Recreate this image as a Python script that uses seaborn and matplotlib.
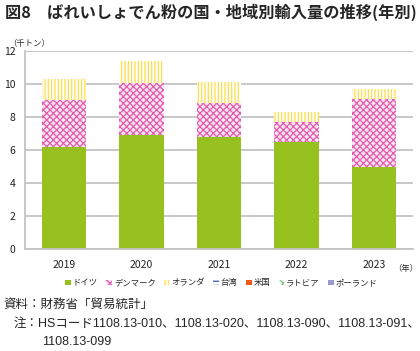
import matplotlib
matplotlib.use("Agg")
import matplotlib.pyplot as plt
from matplotlib.patches import Patch
import seaborn as sns
import pandas as pd

years = ["2019", "2020", "2021", "2022", "2023"]
countries = ["ドイツ", "デンマーク", "オランダ", "台湾", "米国", "ラトビア", "ポーランド"]
germany = [6.20, 6.93, 6.76, 6.46, 5.00]
denmark = [2.85, 3.13, 2.09, 1.21, 4.09]
netherlands = [1.25, 1.34, 1.25, 0.63, 0.61]
taiwan = [0.0, 0.0, 0.0, 0.0, 0.0]
usa = [0.0, 0.0, 0.0, 0.0, 0.0]
latvia = [0.0, 0.0, 0.0, 0.0, 0.0]
poland = [0.0, 0.0, 0.0, 0.0, 0.0]

# (face, hatch colour, hatch)
styles = {
    "ドイツ": ("#97C11F", "#97C11F", None),
    "デンマーク": ("#FBE3F0", "#E35DAE", "xxxxx"),
    "オランダ": ("#FFFFFF", "#FFDD44", "|||||"),
    "台湾": ("#FFFFFF", "#3A52A8", "----"),
    "米国": ("#F05A14", "#F05A14", None),
    "ラトビア": ("#FFFFFF", "#7FC77F", "xxxx"),
    "ポーランド": ("#9A9ACC", "#9A9ACC", None),
}

series = [germany, denmark, netherlands, taiwan, usa, latvia, poland]
rows = []
for c, vals in zip(countries, series):
    for y, v in zip(years, vals):
        rows.append({"year": y, "country": c, "value": v})
df = pd.DataFrame(rows)
df["cum"] = df.groupby("year")["value"].cumsum()

sns.set_theme(style="white")
plt.rcParams["font.family"] = ["Noto Sans CJK JP", "DejaVu Sans"]
plt.rcParams["hatch.linewidth"] = 0.9
narrow = ["Liberation Sans", "Noto Sans CJK JP"]

fig = plt.figure(figsize=(4.2, 3.51), dpi=100)
ax = fig.add_axes([0.06, 0.29, 0.923, 0.565])

# draw cumulative totals from the top series down so each layer covers the next
for c in reversed(countries[:3]):
    sub = df[df["country"] == c]
    face, hc, hatch = styles[c]
    sns.barplot(data=sub, x="year", y="cum", order=years, width=0.57,
                color=face, saturation=1, ax=ax)
    for p in ax.containers[-1]:
        p.set_facecolor(face)
        p.set_edgecolor(hc)
        p.set_linewidth(0)
        if hatch:
            p.set_hatch(hatch)

ax.set_ylim(0, 12)
ax.set_xlim(-0.5, 4.5)
ax.set_yticks(range(0, 13, 2))
ax.yaxis.grid(True, color="#C4C4C4", linewidth=1.3)
ax.set_axisbelow(True)
for s in ["top", "right"]:
    ax.spines[s].set_visible(False)
for s in ["left", "bottom"]:
    ax.spines[s].set_color("#C4C4C4")
    ax.spines[s].set_linewidth(1.3)
ax.tick_params(axis="both", length=0, labelsize=7.5, colors="#222222")
ax.tick_params(axis="y", pad=7)
ax.tick_params(axis="x", pad=8)
ax.set_xlabel("")
ax.set_ylabel("")

fig.text(0.012, 0.965, "図8　ばれいしょでん粉の国・地域別輸入量の推移(年別)",
         fontsize=11.7, fontweight="bold", va="center", ha="left")
fig.text(0.02, 0.875, "（千トン）", fontsize=6, va="center", ha="left")
fig.text(0.995, 0.235, "（年）", fontsize=6, va="center", ha="right")

handles = []
for c in countries:
    face, hc, hatch = styles[c]
    handles.append(Patch(facecolor=face, edgecolor=hc, linewidth=0, hatch=hatch, label=c))
fig.legend(handles=handles, loc="center", bbox_to_anchor=(0.527, 0.194), ncol=7,
           frameon=False, fontsize=6, handlelength=0.7, handleheight=0.7,
           handletextpad=0.2, columnspacing=1.0)

fig.text(0.008, 0.13, "資料：財務省「貿易統計」", fontsize=9, va="center", ha="left",
         family=narrow)
fig.text(0.033, 0.078, "注：HSコード1108.13-010、1108.13-020、1108.13-090、1108.13-091、",
         fontsize=9, va="center", ha="left", family=narrow)
fig.text(0.099, 0.027, "1108.13-099", fontsize=9, va="center", ha="left", family=narrow)

fig.savefig("out.png", dpi=100)
